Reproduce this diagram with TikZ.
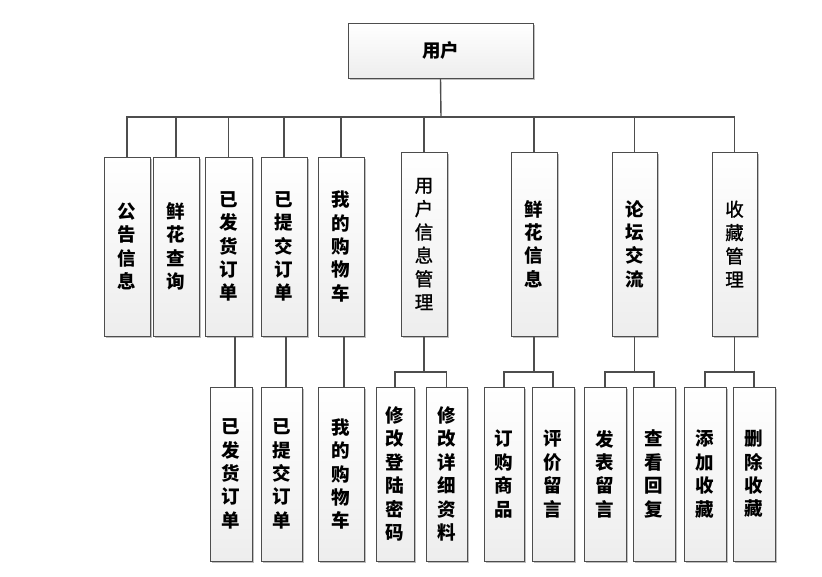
\documentclass[tikz,border=0pt]{standalone}
\usepackage{fontspec}
\newfontfamily\cjk{Noto Sans CJK SC}
\newfontfamily\cjkm{Noto Sans CJK SC}[FakeBold=1.2]
\usetikzlibrary{shadows}
\definecolor{linegray}{HTML}{4D4D4D}
\tikzset{
  box/.style={draw=linegray, line width=1pt, top color=white, bottom color=black!7,
    drop shadow={shadow xshift=1.8pt, shadow yshift=-1.8pt, fill=black!25, opacity=1},
    inner sep=0pt, align=center,
    font=\cjk\bfseries\fontsize{18.5}{23.4}\selectfont},
  thin/.style={font=\cjkm\fontsize{18.5}{23.4}\selectfont},
  lone/.style={box, minimum height=179pt},
  ltwo/.style={box, minimum height=174pt},
  conn/.style={draw=linegray, line width=1.4pt}
}
\begin{document}
\begin{tikzpicture}[x=1pt,y=-1pt]
\useasboundingbox (0,0) rectangle (822,576);
\fill[white] (0,0) rectangle (822,576);
% root
\node[box, minimum width=185pt, minimum height=55pt] (root) at (440.5,50.5) {用户};
% level 1
\node[lone, minimum width=46pt] (a1) at (127,246.5) {公\\告\\信\\息};
\node[lone, minimum width=46pt] (a2) at (176,246.5) {鲜\\花\\查\\询};
\node[lone, minimum width=47pt] (a3) at (228.5,246.5) {已\\发\\货\\订\\单};
\node[lone, minimum width=46pt] (a4) at (284,246.5) {已\\提\\交\\订\\单};
\node[lone, minimum width=46pt] (a5) at (341,246.5) {我\\的\\购\\物\\车};
\node[box, thin, minimum width=46pt, minimum height=184pt] (a6) at (424,244) {用\\户\\信\\息\\管\\理};
\node[box, minimum width=46pt, minimum height=184pt] (a7) at (534,244) {鲜\\花\\信\\息};
\node[box, minimum width=45pt, minimum height=184pt] (a8) at (634.5,244) {论\\坛\\交\\流};
\node[box, thin, minimum width=45pt, minimum height=184pt] (a9) at (734.5,244) {收\\藏\\管\\理};
% level 2
\node[ltwo, minimum width=42pt] (b3) at (231,474) {已\\发\\货\\订\\单};
\node[ltwo, minimum width=41pt] (b4) at (281.5,474) {已\\提\\交\\订\\单};
\node[ltwo, minimum width=46pt] (b5) at (341,474) {我\\的\\购\\物\\车};
\node[ltwo, minimum width=38pt] (b6a) at (395,474) {修\\改\\登\\陆\\密\\码};
\node[ltwo, minimum width=41pt] (b6b) at (446.5,474) {修\\改\\详\\细\\资\\料};
\node[ltwo, minimum width=40pt] (b7a) at (504,474) {订\\购\\商\\品};
\node[ltwo, minimum width=42pt] (b7b) at (553,474) {评\\价\\留\\言};
\node[ltwo, minimum width=42pt] (b8a) at (605,474) {发\\表\\留\\言};
\node[ltwo, minimum width=42pt] (b8b) at (654,474) {查\\看\\回\\复};
\node[ltwo, minimum width=42pt] (b9a) at (705,474) {添\\加\\收\\藏};
\node[ltwo, minimum width=42pt] (b9b) at (754,474) {删\\除\\收\\藏};
% bus
\coordinate (bus) at (441,117);
\coordinate (lev) at (0,372);
\draw[conn] (root.south) -- (bus);
\draw[conn] (a1.north) |- (a9.north |- bus) -- (a9.north);
\foreach \n in {a2,a3,a4,a5,a6,a7,a8}
  \draw[conn] (\n.north) -- (\n.north |- bus);
% level 1 -> level 2 (single)
\draw[conn] ([xshift=4pt]b3.north) -- ([xshift=4pt]b3.north |- a3.south);
\draw[conn] ([xshift=4.5pt]b4.north) -- ([xshift=4.5pt]b4.north |- a4.south);
\draw[conn] ([xshift=3pt]b5.north) -- ([xshift=3pt]b5.north |- a5.south);
% groups
\foreach \p/\l/\r in {a6/b6a/b6b, a7/b7a/b7b, a8/b8a/b8b, a9/b9a/b9b}{
  \draw[conn] (\p.south) -- (\p.south |- lev) coordinate (j);
  \draw[conn] (\l.north) |- (j) -| (\r.north);
}
\end{tikzpicture}
\end{document}
